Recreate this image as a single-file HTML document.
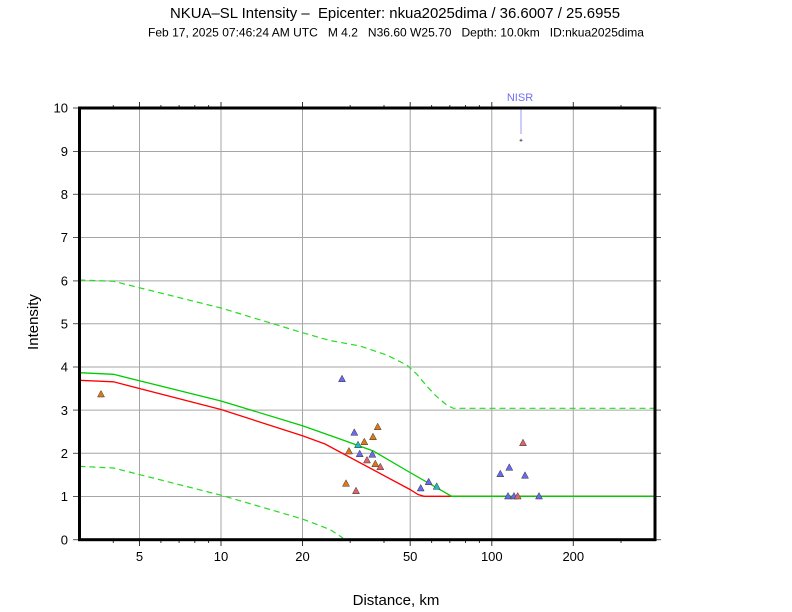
<!DOCTYPE html>
<html>
<head>
<meta charset="utf-8">
<style>
  html, body { margin: 0; padding: 0; background: #ffffff; }
  svg { display: block; }
  text { font-family: "Liberation Sans", Arial, sans-serif; fill: #000; }
</style>
</head>
<body>
<svg width="792" height="612" viewBox="0 0 792 612" xmlns="http://www.w3.org/2000/svg">
  <rect x="0" y="0" width="792" height="612" fill="#ffffff"/>

  <!-- Titles -->
  <text x="395" y="18" font-size="15" text-anchor="middle" textLength="450" lengthAdjust="spacingAndGlyphs" style="white-space:pre">NKUA–SL Intensity –  Epicenter: nkua2025dima / 36.6007 / 25.6955</text>
  <text x="396" y="36.5" font-size="12" text-anchor="middle" textLength="496" lengthAdjust="spacingAndGlyphs" style="white-space:pre">Feb 17, 2025 07:46:24 AM UTC   M 4.2   N36.60 W25.70   Depth: 10.0km   ID:nkua2025dima</text>

  <!-- Grid -->
  <g stroke="#a6a6a6" stroke-width="1">
    <line x1="79" y1="151.5" x2="655" y2="151.5"/>
    <line x1="79" y1="194.3" x2="655" y2="194.3"/>
    <line x1="79" y1="237.5" x2="655" y2="237.5"/>
    <line x1="79" y1="280.9" x2="655" y2="280.9"/>
    <line x1="79" y1="323.7" x2="655" y2="323.7"/>
    <line x1="79" y1="367" x2="655" y2="367"/>
    <line x1="79" y1="410.1" x2="655" y2="410.1"/>
    <line x1="79" y1="453.3" x2="655" y2="453.3"/>
    <line x1="79" y1="496.5" x2="655" y2="496.5"/>
    <line x1="139.5" y1="108" x2="139.5" y2="540"/>
    <line x1="221" y1="108" x2="221" y2="540"/>
    <line x1="302.5" y1="108" x2="302.5" y2="540"/>
    <line x1="410.2" y1="108" x2="410.2" y2="540"/>
    <line x1="491.8" y1="108" x2="491.8" y2="540"/>
    <line x1="573.3" y1="108" x2="573.3" y2="540"/>
  </g>

  <!-- Ticks -->
  <g stroke="#555" stroke-width="1">
    <line x1="73" y1="108" x2="79" y2="108"/>
    <line x1="73" y1="151.5" x2="79" y2="151.5"/>
    <line x1="73" y1="194.3" x2="79" y2="194.3"/>
    <line x1="73" y1="237.5" x2="79" y2="237.5"/>
    <line x1="73" y1="280.9" x2="79" y2="280.9"/>
    <line x1="73" y1="323.7" x2="79" y2="323.7"/>
    <line x1="73" y1="367" x2="79" y2="367"/>
    <line x1="73" y1="410.1" x2="79" y2="410.1"/>
    <line x1="73" y1="453.3" x2="79" y2="453.3"/>
    <line x1="73" y1="496.5" x2="79" y2="496.5"/>
    <line x1="73" y1="539.7" x2="79" y2="539.7"/>
    <line x1="655" y1="108" x2="661" y2="108"/>
    <line x1="655" y1="151.5" x2="661" y2="151.5"/>
    <line x1="655" y1="194.3" x2="661" y2="194.3"/>
    <line x1="655" y1="237.5" x2="661" y2="237.5"/>
    <line x1="655" y1="280.9" x2="661" y2="280.9"/>
    <line x1="655" y1="323.7" x2="661" y2="323.7"/>
    <line x1="655" y1="367" x2="661" y2="367"/>
    <line x1="655" y1="410.1" x2="661" y2="410.1"/>
    <line x1="655" y1="453.3" x2="661" y2="453.3"/>
    <line x1="655" y1="496.5" x2="661" y2="496.5"/>
    <line x1="655" y1="539.7" x2="661" y2="539.7"/>
  </g>
  <g stroke="#333" stroke-width="1">
    <line x1="139.5" y1="540" x2="139.5" y2="546"/>
    <line x1="221" y1="540" x2="221" y2="546"/>
    <line x1="302.5" y1="540" x2="302.5" y2="546"/>
    <line x1="410.2" y1="540" x2="410.2" y2="546"/>
    <line x1="491.8" y1="540" x2="491.8" y2="546"/>
    <line x1="573.3" y1="540" x2="573.3" y2="546"/>
    <line x1="113.3" y1="540" x2="113.3" y2="543"/>
    <line x1="160.9" y1="540" x2="160.9" y2="543"/>
    <line x1="179.1" y1="540" x2="179.1" y2="543"/>
    <line x1="194.8" y1="540" x2="194.8" y2="543"/>
    <line x1="208.6" y1="540" x2="208.6" y2="543"/>
    <line x1="350.2" y1="540" x2="350.2" y2="543"/>
    <line x1="384" y1="540" x2="384" y2="543"/>
    <line x1="431.6" y1="540" x2="431.6" y2="543"/>
    <line x1="449.8" y1="540" x2="449.8" y2="543"/>
    <line x1="465.5" y1="540" x2="465.5" y2="543"/>
    <line x1="479.4" y1="540" x2="479.4" y2="543"/>
    <line x1="621" y1="540" x2="621" y2="543"/>
    <line x1="139.5" y1="102" x2="139.5" y2="108"/>
    <line x1="221" y1="102" x2="221" y2="108"/>
    <line x1="302.5" y1="102" x2="302.5" y2="108"/>
    <line x1="410.2" y1="102" x2="410.2" y2="108"/>
    <line x1="491.8" y1="102" x2="491.8" y2="108"/>
    <line x1="573.3" y1="102" x2="573.3" y2="108"/>
    <line x1="113.3" y1="105" x2="113.3" y2="108"/>
    <line x1="160.9" y1="105" x2="160.9" y2="108"/>
    <line x1="179.1" y1="105" x2="179.1" y2="108"/>
    <line x1="194.8" y1="105" x2="194.8" y2="108"/>
    <line x1="208.6" y1="105" x2="208.6" y2="108"/>
    <line x1="350.2" y1="105" x2="350.2" y2="108"/>
    <line x1="384" y1="105" x2="384" y2="108"/>
    <line x1="431.6" y1="105" x2="431.6" y2="108"/>
    <line x1="449.8" y1="105" x2="449.8" y2="108"/>
    <line x1="465.5" y1="105" x2="465.5" y2="108"/>
    <line x1="479.4" y1="105" x2="479.4" y2="108"/>
    <line x1="621" y1="105" x2="621" y2="108"/>
  </g>

  <!-- Y tick labels -->
  <g font-size="13" text-anchor="end">
    <text x="68" y="112.7">10</text>
    <text x="68" y="156">9</text>
    <text x="68" y="199">8</text>
    <text x="68" y="242.2">7</text>
    <text x="68" y="285.5">6</text>
    <text x="68" y="328.5">5</text>
    <text x="68" y="371.7">4</text>
    <text x="68" y="414.8">3</text>
    <text x="68" y="458">2</text>
    <text x="68" y="501.2">1</text>
    <text x="68" y="544.4">0</text>
  </g>

  <!-- X tick labels -->
  <g font-size="13" text-anchor="middle">
    <text x="139.5" y="561">5</text>
    <text x="221" y="561">10</text>
    <text x="302.5" y="561">20</text>
    <text x="410.2" y="561">50</text>
    <text x="491.8" y="561">100</text>
    <text x="573.3" y="561">200</text>
  </g>

  <!-- Axis labels -->
  <text x="396" y="605" font-size="15" text-anchor="middle">Distance, km</text>
  <text transform="translate(38,322) rotate(-90)" font-size="15" text-anchor="middle">Intensity</text>

  <!-- Curves -->
  <polyline fill="none" stroke="#22dd22" stroke-width="1.2" stroke-dasharray="6,4"
    points="79.4,280 113.5,281.3 221,308 302.5,332.7 330,340.5 360,346 386.7,355 406.7,365 416.7,374 426.7,386 436,396 446.7,405 453.3,408.3 655,408.3"/>
  <polyline fill="none" stroke="#22dd22" stroke-width="1.2" stroke-dasharray="6,4"
    points="79.4,466.3 113.5,468 221,495.2 302.5,519 330,529.5 343,538"/>
  <polyline fill="none" stroke="#ff0000" stroke-width="1.3"
    points="79.4,380.3 113.5,381.8 221,409.5 302.5,435.8 325,444 410,489.5 418,494.5 424,496.3 655,496.3"/>
  <polyline fill="none" stroke="#00cc00" stroke-width="1.3"
    points="79.4,372.7 113.5,374.3 221,401 302.5,425.7 340,439 373.3,451 410,472.5 451.7,496.3 655,496.3"/>

  <!-- NISR -->
  <text x="520" y="101" font-size="11" text-anchor="middle" style="fill:#6f6ff5">NISR</text>
  <line x1="521" y1="108" x2="521" y2="134" stroke="#9a9aff" stroke-width="1"/>
  <line x1="519.5" y1="140.3" x2="522.5" y2="140.3" stroke="#444" stroke-width="0.8"/>
  <line x1="521" y1="138.8" x2="521" y2="141.8" stroke="#444" stroke-width="0.8"/>

  <!-- Stations -->
  <defs>
    <path id="tri" d="M -3.5 3 L 3.5 3 L 0 -3.5 Z"/>
  </defs>
  <g stroke="#333" stroke-width="0.5">
    <use href="#tri" x="101" y="394" fill="#e07818"/>
    <use href="#tri" x="377.7" y="426.7" fill="#e07818"/>
    <use href="#tri" x="373" y="436.7" fill="#e07818"/>
    <use href="#tri" x="364.3" y="441.7" fill="#e07818"/>
    <use href="#tri" x="349" y="451" fill="#e07818"/>
    <use href="#tri" x="375.3" y="463.7" fill="#e07818"/>
    <use href="#tri" x="346" y="483.3" fill="#e07818"/>
    <use href="#tri" x="367" y="460" fill="#e06464"/>
    <use href="#tri" x="380.3" y="466.7" fill="#e06464"/>
    <use href="#tri" x="356" y="490.7" fill="#e06464"/>
    <use href="#tri" x="523" y="442.7" fill="#e06464"/>
    <use href="#tri" x="358" y="444.7" fill="#22bbbb"/>
    <use href="#tri" x="436.7" y="486.3" fill="#22bbbb"/>
    <use href="#tri" x="342" y="378.7" fill="#6a6af0"/>
    <use href="#tri" x="354.3" y="432.3" fill="#6a6af0"/>
    <use href="#tri" x="359.7" y="453.7" fill="#6a6af0"/>
    <use href="#tri" x="372.3" y="454.3" fill="#6a6af0"/>
    <use href="#tri" x="420.7" y="488" fill="#6a6af0"/>
    <use href="#tri" x="428.7" y="481.7" fill="#6a6af0"/>
    <use href="#tri" x="509.3" y="467.3" fill="#6a6af0"/>
    <use href="#tri" x="500.3" y="473.7" fill="#6a6af0"/>
    <use href="#tri" x="525" y="475.3" fill="#6a6af0"/>
    <use href="#tri" x="508" y="496" fill="#6a6af0"/>
    <use href="#tri" x="514" y="496" fill="#6a6af0"/>
    <use href="#tri" x="539" y="496" fill="#6a6af0"/>
    <use href="#tri" x="517.7" y="496" fill="#e06464"/>
  </g>

  <!-- Frame -->
  <rect x="79.5" y="108" width="575.5" height="431.7" fill="none" stroke="#000" stroke-width="3"/>
</svg>
</body>
</html>
